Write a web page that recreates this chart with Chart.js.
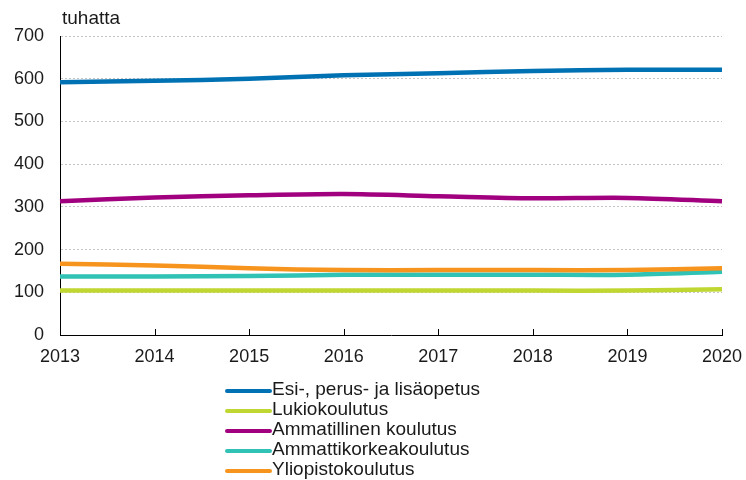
<!DOCTYPE html>
<html>
<head>
<meta charset="utf-8">
<script src="https://cdn.jsdelivr.net/npm/chart.js@4"></script>
<style>
  html, body { margin: 0; padding: 0; background: #fff; }
  #wrap { width: 746px; height: 480px; position: relative; }
</style>
</head>
<body>
<div id="wrap"><canvas id="chart" width="746" height="480"></canvas></div>
<script>
const years = ['2013', '2014', '2015', '2016', '2017', '2018', '2019', '2020'];
const yTicks = [0, 100, 200, 300, 400, 500, 600, 700];
const unitLabel = 'tuhatta';

const esiPerus = [592, 595, 600, 608, 613, 618, 621, 621];
const lukio = [104, 104, 104, 104, 104, 104, 104, 107];
const ammatillinen = [313, 322, 327, 330, 325, 320, 321, 313];
const amk = [137, 137, 138, 141, 141, 141, 141, 148];
const yliopisto = [167, 163, 156, 152, 152, 152, 152, 156];

const seriesNames = ['Esi-, perus- ja lisäopetus', 'Lukiokoulutus', 'Ammatillinen koulutus', 'Ammattikorkeakoulutus', 'Yliopistokoulutus'];
const seriesData = [esiPerus, lukio, ammatillinen, amk, yliopisto];
const colors = ['#0072b4', '#bfd730', '#a1007f', '#30c2b4', '#f7941d'];

const FONT = '"Liberation Sans", Arial, sans-serif';

// ticks on the x axis point up into the plot
const xTickMarks = {
  id: 'xTickMarks',
  afterDatasetsDraw(chart) {
    const { ctx, scales: { x }, chartArea } = chart;
    ctx.save();
    ctx.strokeStyle = '#000';
    ctx.lineWidth = 1;
    years.forEach((y, i) => {
      const px = Math.round(x.getPixelForValue(i)) + 0.5;
      ctx.beginPath();
      ctx.moveTo(px, chartArea.bottom);
      ctx.lineTo(px, chartArea.bottom - 6);
      ctx.stroke();
    });
    ctx.restore();
  }
};

// unit label and stacked legend below the plot
const extras = {
  id: 'extras',
  afterDraw(chart) {
    const { ctx, chartArea } = chart;
    ctx.save();
    ctx.fillStyle = '#1a1a1a';
    ctx.font = '19px ' + FONT;
    ctx.textBaseline = 'alphabetic';
    ctx.textAlign = 'left';
    ctx.fillText(unitLabel, chartArea.left + 2, 24);

    chart.data.datasets.forEach((ds, i) => {
      const cy = 391 + i * 20;
      ctx.strokeStyle = ds.borderColor;
      ctx.lineWidth = 4;
      ctx.lineCap = 'round';
      ctx.beginPath();
      ctx.moveTo(227, cy);
      ctx.lineTo(270, cy);
      ctx.stroke();
      ctx.textBaseline = 'middle';
      ctx.fillText(ds.label, 272, cy - 1);
    });
    ctx.restore();
  }
};

new Chart(document.getElementById('chart'), {
  type: 'line',
  data: {
    labels: years,
    datasets: seriesData.map((d, i) => ({
      label: seriesNames[i],
      data: d,
      borderColor: colors[i],
      backgroundColor: colors[i],
      borderWidth: 4.5,
      pointRadius: 0,
      tension: 0.3,
      fill: false,
      order: seriesData.length - i
    }))
  },
  options: {
    responsive: false,
    animation: false,
    layout: { padding: { top: 36, right: 24, bottom: 105, left: 0 } },
    plugins: {
      legend: { display: false },
      tooltip: { enabled: false }
    },
    scales: {
      x: {
        offset: false,
        grid: { display: false, drawTicks: false },
        border: { display: true, color: '#000', width: 1 },
        ticks: {
          color: '#1a1a1a',
          font: { family: FONT, size: 18 },
          padding: 11,
          maxRotation: 0,
          autoSkip: false
        },
        afterFit: s => { s.height = 40; s.paddingLeft = 0; s.paddingRight = 0; }
      },
      y: {
        min: 0,
        max: 700,
        afterBuildTicks: s => { s.ticks = yTicks.map(v => ({ value: v })); },
        grid: {
          drawTicks: false,
          color: ctx => ctx.tick && ctx.tick.value === 0 ? 'rgba(0,0,0,0)' : '#c4c4c4',
          lineWidth: 1
        },
        border: { display: true, color: '#000', width: 1, dash: [2, 2] },
        ticks: {
          color: '#1a1a1a',
          font: { family: FONT, size: 18 },
          padding: 16
        },
        afterFit: s => { s.width = 60; }
      }
    }
  },
  plugins: [xTickMarks, extras]
});
</script>
</body>
</html>
